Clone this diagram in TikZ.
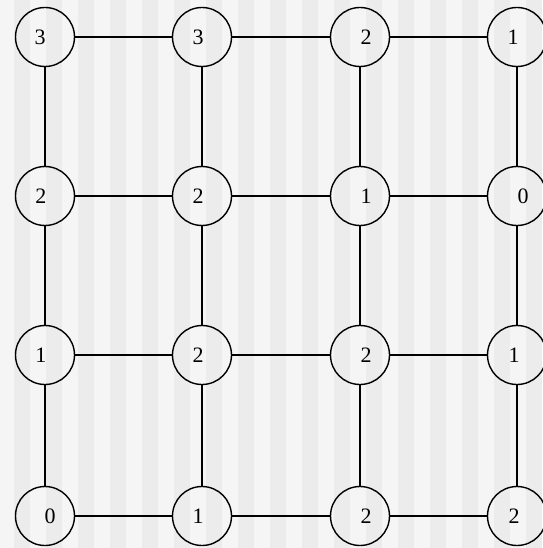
\documentclass[tikz,border=0pt]{standalone}
\usepackage{fontspec}
\setmainfont{Liberation Serif}
\definecolor{stripeA}{HTML}{F5F5F5}
\definecolor{stripeB}{HTML}{ECECEC}
\newcommand\vlab[2]{\raisebox{-3pt}{\makebox[0pt]{\hspace*{#1pt}\hspace*{#1pt}#2}}}
\begin{document}
\begin{tikzpicture}[x=1pt,y=1pt,
  vtx/.style={circle,draw=black,line width=1.4pt,minimum size=59pt,inner sep=0pt,font=\fontsize{22}{22}\selectfont},
  edge/.style={draw=black,line width=1.4pt}]
\fill[stripeA] (0,0) rectangle (539,-548);
\foreach \k in {0,...,16} {
  \fill[stripeB] (14+32*\k,0) rectangle (30+32*\k,-548);
}
\useasboundingbox (0,0) rectangle (539,-548);
% columns x: 45, 202, 360, 517 ; rows y: 37,196,355,516
\node[vtx] (a1) at (45,-37) {\vlab{-5}{3}};
\node[vtx] (a2) at (202,-37) {\vlab{-4}{3}};
\node[vtx] (a3) at (360,-37) {\vlab{6}{2}};
\node[vtx] (a4) at (517,-37) {\vlab{-4}{1}};
\node[vtx] (b1) at (45,-196) {\vlab{-4}{2}};
\node[vtx] (b2) at (202,-196) {\vlab{-4}{2}};
\node[vtx] (b3) at (360,-196) {\vlab{6}{1}};
\node[vtx] (b4) at (517,-196) {\vlab{6}{0}};
\node[vtx] (c1) at (45,-355) {\vlab{-4}{1}};
\node[vtx] (c2) at (202,-355) {\vlab{-4}{2}};
\node[vtx] (c3) at (360,-355) {\vlab{6}{2}};
\node[vtx] (c4) at (517,-355) {\vlab{-3}{1}};
\node[vtx] (d1) at (45,-516) {\vlab{5}{0}};
\node[vtx] (d2) at (202,-516) {\vlab{-4}{1}};
\node[vtx] (d3) at (360,-516) {\vlab{6}{2}};
\node[vtx] (d4) at (517,-516) {\vlab{-3}{2}};
\foreach \r in {a,b,c,d} {
  \draw[edge] (\r1) -- (\r2);
  \draw[edge] (\r2) -- (\r3);
  \draw[edge] (\r3) -- (\r4);
}
\foreach \c in {1,2,3,4} {
  \draw[edge] (a\c) -- (b\c);
  \draw[edge] (b\c) -- (c\c);
  \draw[edge] (c\c) -- (d\c);
}
\end{tikzpicture}
\end{document}
